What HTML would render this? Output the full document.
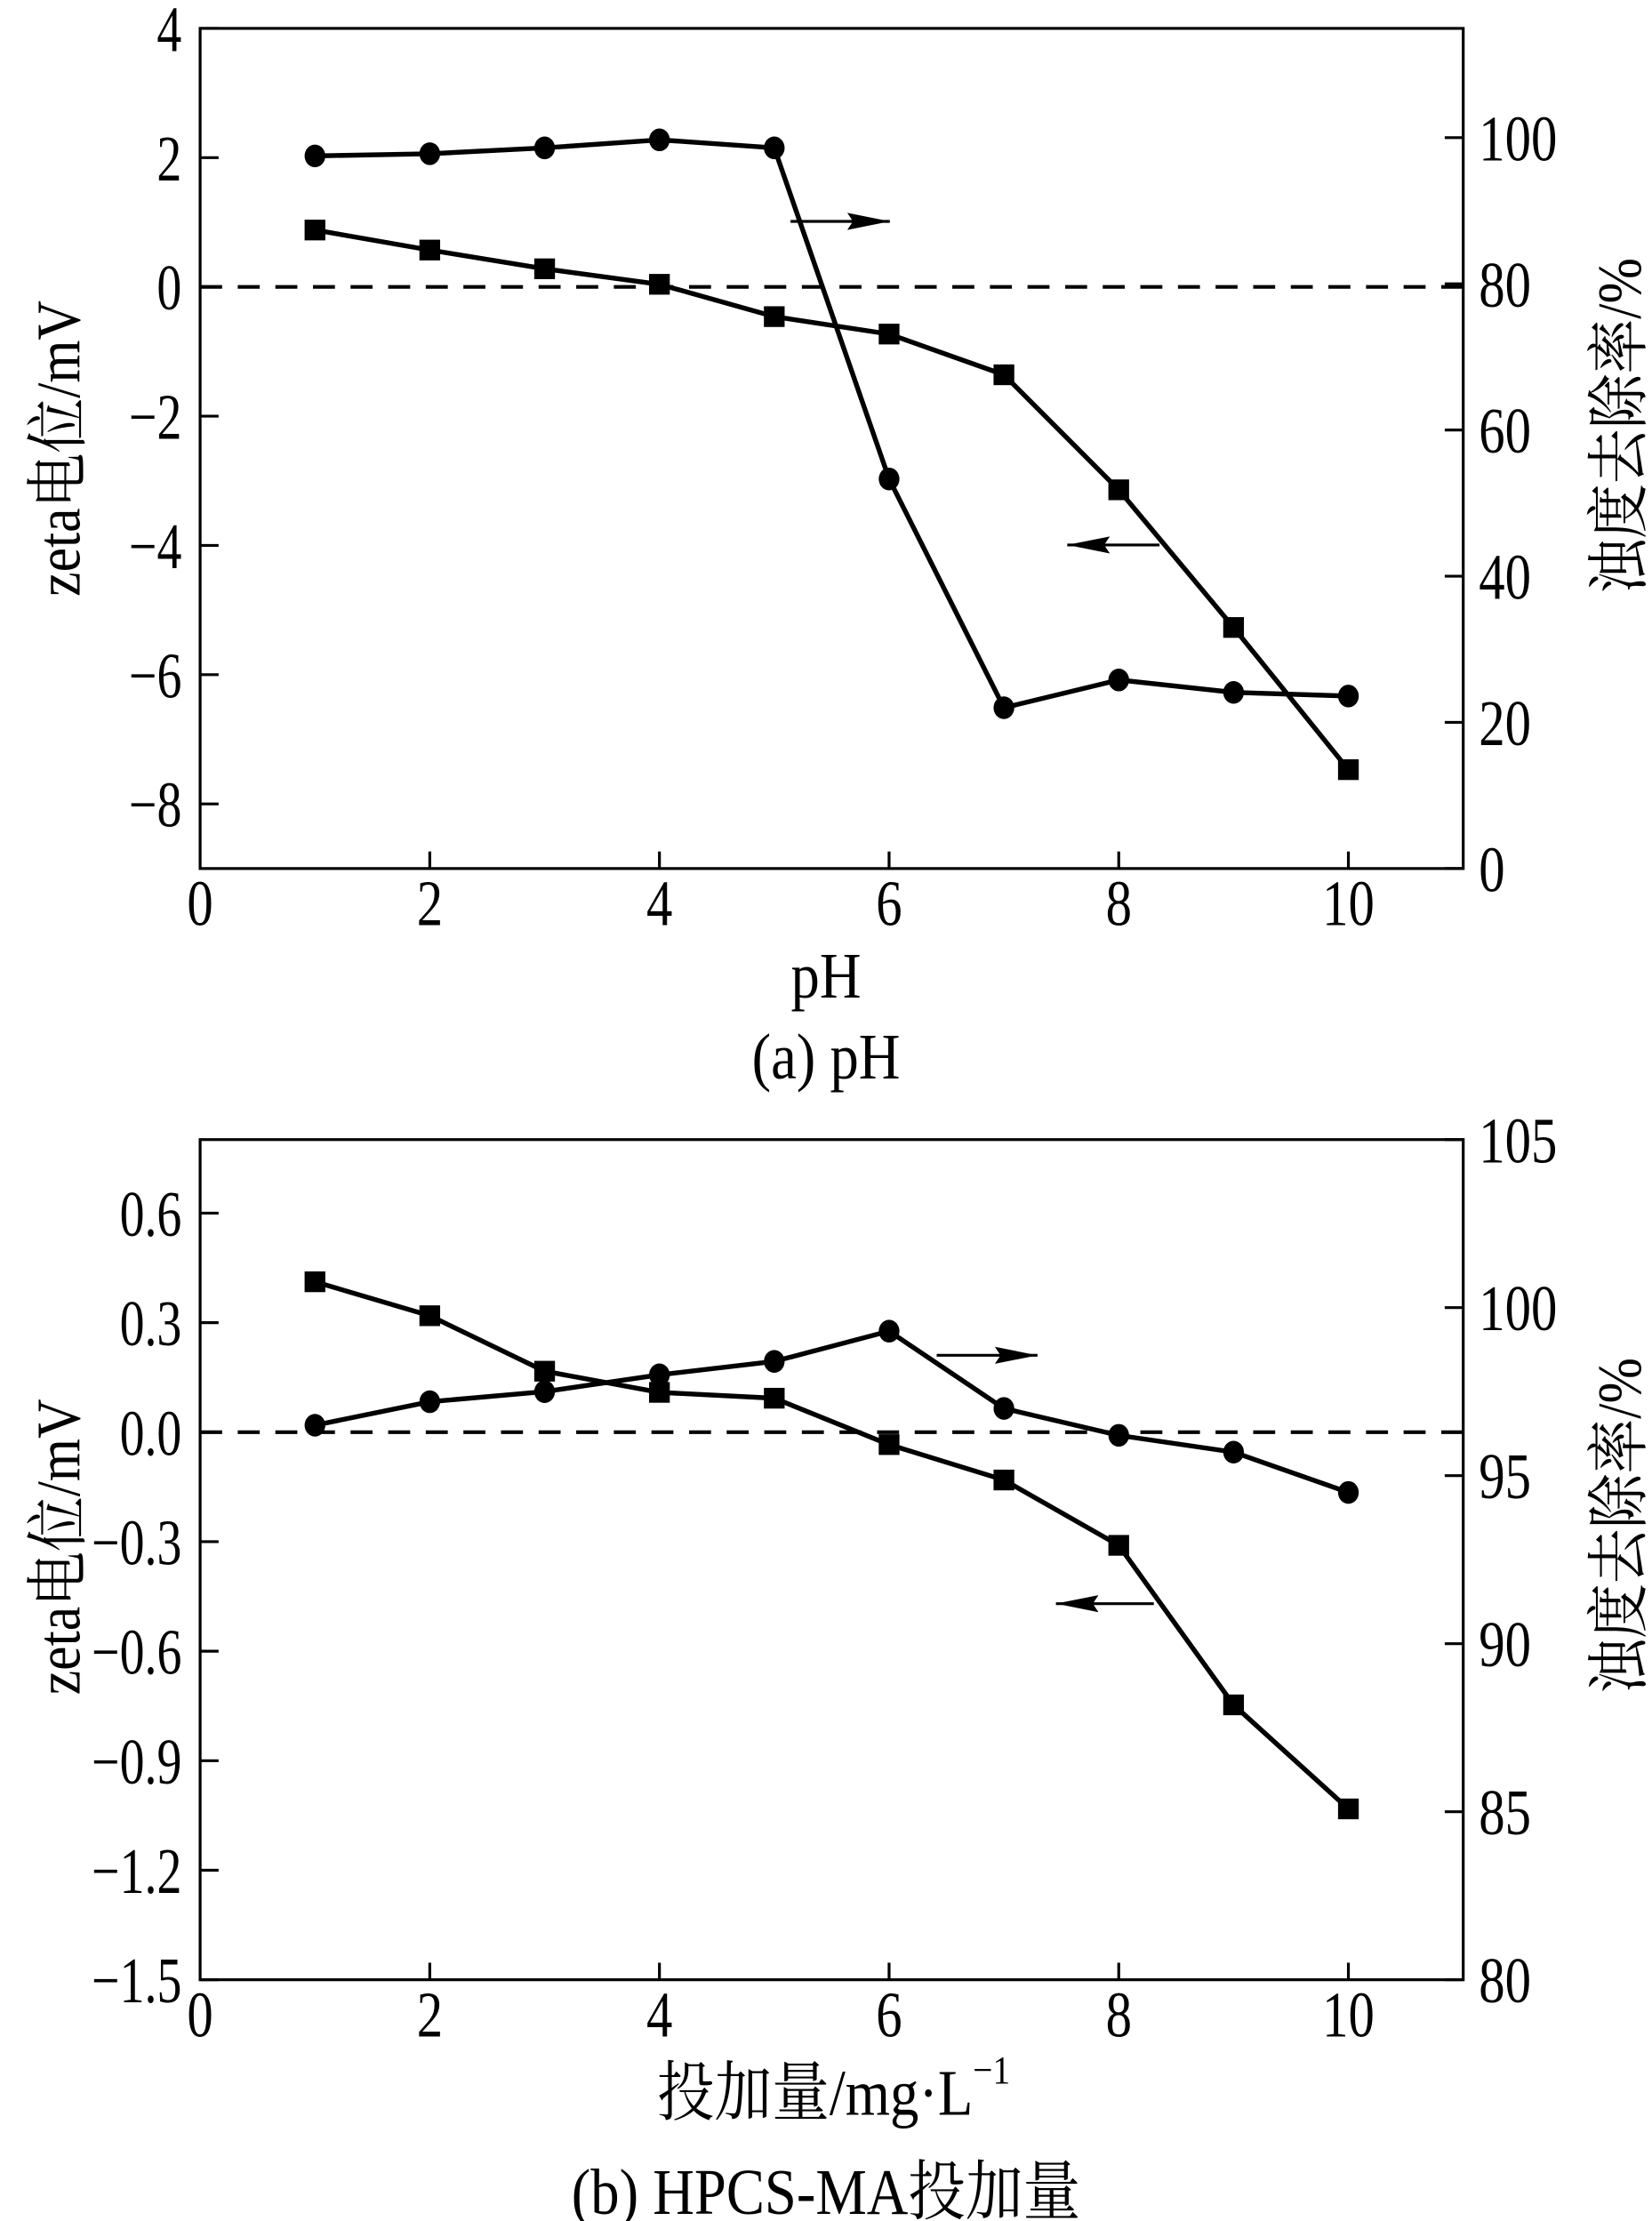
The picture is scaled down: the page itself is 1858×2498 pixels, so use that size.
<!DOCTYPE html>
<html><head><meta charset="utf-8"><style>
html,body{margin:0;padding:0;background:#fff;}
svg{display:block;}
text{font-family:"Liberation Serif","Noto Serif CJK SC","Noto Sans CJK SC",serif;fill:#000;}
</style></head><body>
<svg id="fig" width="1858" height="2498" viewBox="0 0 1164 1565" xmlns="http://www.w3.org/2000/svg"></svg>
<script>
// ---- data (a) pH ----
const aX = [1,2,3,4,5,6,7,8,9,10];
const aZeta = [0.88,0.57,0.28,0.04,-0.46,-0.73,-1.36,-3.14,-5.27,-7.47];
const aRemoval = [97.5,97.8,98.6,99.7,98.6,53.3,22.0,25.8,24.1,23.6];
const aXTicks = [0,2,4,6,8,10];
const aLeftTicks = [4,2,0,-2,-4,-6,-8];
const aLeftLabels = ["4","2","0","\u22122","\u22124","\u22126","\u22128"];
const aRightTicks = [0,20,40,60,80,100];
// ---- data (b) dosage ----
const bX = [1,2,3,4,5,6,7,8,9,10];
const bZeta = [0.412,0.319,0.167,0.109,0.093,-0.034,-0.131,-0.310,-0.747,-1.032];
const bRemoval = [96.5,97.2,97.5,98.0,98.4,99.3,97.0,96.2,95.7,94.5];
const bXTicks = [0,2,4,6,8,10];
const bLeftTicks = [0.6,0.3,0.0,-0.3,-0.6,-0.9,-1.2,-1.5];
const bLeftLabels = ["0.6","0.3","0.0","\u22120.3","\u22120.6","\u22120.9","\u22121.2","\u22121.5"];
const bRightTicks = [80,85,90,95,100,105];

const NS="http://www.w3.org/2000/svg";
const svg=document.getElementById('fig');
function mk(tag,attrs,parent){const e=document.createElementNS(NS,tag);for(const k in attrs)e.setAttribute(k,attrs[k]);(parent||svg).appendChild(e);return e;}
function txt(s,x,y,anchor,size,rot,parent,sx){
  const t=mk('text',{'text-anchor':anchor,'font-size':size,transform:`translate(${x},${y}) rotate(${rot||0}) scale(${sx||0.88},1)`},parent);
  t.textContent=s;return t;
}

function panel(cfg){
  const g=mk('g',{});
  
  
  const L=141,R=1031,T=cfg.top,B=cfg.bottom;
  const xs=v=>L+(v-0)/11*(R-L);
  const yl=v=>T+(cfg.lmax-v)/(cfg.lmax-cfg.lmin)*(B-T);
  const yr=v=>T+(cfg.rmax-v)/(cfg.rmax-cfg.rmin)*(B-T);
  const box=mk('rect',{x:L,y:T,width:R-L,height:B-T,fill:'none',stroke:'#000','stroke-width':2},g);
  
  
  const z=mk('line',{x1:L,x2:R,y1:yl(0),y2:yl(0),stroke:'#000','stroke-width':2.6,'stroke-dasharray':'15.5 11'},g);
  
  
  cfg.xt.forEach(v=>{
    const x=xs(v);
    if(v>0){const tk=mk('line',{x1:x,x2:x,y1:B,y2:B-12,stroke:'#000','stroke-width':2},g);
      
      }
    const t=txt(String(v),x,B+40,'middle',46,0,g,0.8);
    
    
  });
  cfg.lt.forEach((v,i)=>{
    const y=yl(v);
    const tk=mk('line',{x1:L,x2:L+13,y1:y,y2:y,stroke:'#000','stroke-width':2},g);
    
    
    const t=txt(cfg.ll[i],128,y+16,'end',46,0,g,0.76);
    
    
  });
  cfg.rt.forEach(v=>{
    const y=yr(v);
    const tk=mk('line',{x1:R,x2:R-13,y1:y,y2:y,stroke:'#000','stroke-width':2},g);
    
    
    const t=txt(String(v),1042,y+16,'start',46,0,g,0.8);
    
    
  });
  const sq=mk('polyline',{points:cfg.x.map((v,i)=>xs(v)+','+yl(cfg.zeta[i])).join(' '),fill:'none',stroke:'#000','stroke-width':3.4},g);
  
  
  const ci=mk('polyline',{points:cfg.x.map((v,i)=>xs(v)+','+yr(cfg.rem[i])).join(' '),fill:'none',stroke:'#000','stroke-width':3.4},g);
  
  
  cfg.x.forEach((v,i)=>{
    const r=mk('rect',{x:xs(v)-7.3,y:yl(cfg.zeta[i])-7.3,width:14.6,height:14.6,fill:'#000'},g);
    
    
    const c=mk('ellipse',{cx:xs(v),cy:yr(cfg.rem[i]),rx:7.3,ry:8,fill:'#000'},g);
    
    
  });
  function arrow(x1,x2,y,name){
    const a=mk('g',{},g);
    
    
    mk('line',{x1:x1,x2:x2,y1:y,y2:y,stroke:'#000','stroke-width':2},a);
    const d=x2>x1?1:-1;
    mk('path',{d:`M${x2},${y} L${x2-d*30},${y-6} L${x2-d*26},${y} L${x2-d*30},${y+6} Z`,fill:'#000'},a);
  }
  arrow(cfg.ra[0],cfg.ra[1],cfg.ra[2],'right-axis-arrow');
  arrow(cfg.la[0],cfg.la[1],cfg.la[2],'left-axis-arrow');
  let t=txt('zeta电位/mV',56,cfg.ltc,'middle',44,-90,g);
  
  
  t=txt('浊度去除率/%',1156,cfg.rtc,'middle',44,-90,g);
  
  
  t=txt(cfg.xl,cfg.xlx,cfg.xly,cfg.xla,46,0,g);
  
  
  if(cfg.sup){
    const s=mk('tspan',{'font-size':28,dy:-22},t);
    s.textContent=cfg.sup;
  }
  t=txt(cfg.cap,582,cfg.capy,'middle',46,0,g);
  
  
  return t;
}
panel({name:'chart-a-ph',top:20,bottom:612,lmax:4,lmin:-9,rmax:114.95,rmin:0,
  x:aX,zeta:aZeta,rem:aRemoval,xt:aXTicks,lt:aLeftTicks,ll:aLeftLabels,rt:aRightTicks,
  ra:[557,627,156],la:[817,752,384],ltc:316,rtc:300,xl:'pH',xlx:582,xla:'middle',xly:703,cap:'(a) pH',capy:760});
panel({name:'chart-b-dosage',top:803,bottom:1395,lmax:0.8015,lmin:-1.5,rmax:105,rmin:80,
  x:bX,zeta:bZeta,rem:bRemoval,xt:bXTicks,lt:bLeftTicks,ll:bLeftLabels,rt:bRightTicks,
  ra:[660,731,955],la:[813,744,1130],ltc:1090,rtc:1075,xl:'投加量/mg·L',sup:'\u22121',xlx:463,xla:'start',xly:1490,cap:'(b) HPCS-MA投加量',capy:1560});
</script>
</body></html>
